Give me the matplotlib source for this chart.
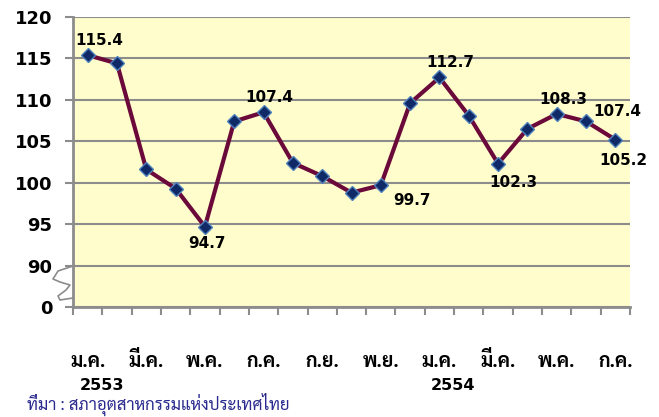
import matplotlib
matplotlib.use("Agg")
import matplotlib.pyplot as plt
from matplotlib import font_manager
from matplotlib.lines import Line2D
import numpy as np

# ---------------- data ----------------
values = [115.4, 114.4, 101.6, 99.3, 94.7, 107.4, 108.5, 102.4, 100.8, 98.8,
          99.7, 109.6, 112.7, 108.1, 102.3, 106.5, 108.3, 107.4, 105.2]
month_labels = ["ม.ค.", "มี.ค.", "พ.ค.", "ก.ค.", "ก.ย.", "พ.ย.",
                "ม.ค.", "มี.ค.", "พ.ค.", "ก.ค."]
year_labels = {0: "2553", 12: "2554"}
ytick_values = [85, 90, 95, 100, 105, 110, 115, 120]
ytick_labels = ["0", "90", "95", "100", "105", "110", "115", "120"]
# annotated points: index -> (text, dx px, dy px)
annotations = {0: ("115.4", 12, 15), 6: ("107.4", 6, 15), 4: ("94.7", 2, -17),
               10: ("99.7", 31, -15), 12: ("112.7", 11, 15), 14: ("102.3", 15, -19),
               16: ("108.3", 7, 14), 17: ("107.4", 31, 10), 18: ("105.2", 8, -21)}
source = "ที่มา : สภาอุตสาหกรรมแห่งประเทศไทย"

# ---------------- fonts ----------------
thai_font = None
try:
    from fontTools.ttLib import TTFont
    cands = {}
    for f in font_manager.fontManager.ttflist:
        try:
            tt = TTFont(f.fname, fontNumber=0, lazy=True)
            cmap = tt.getBestCmap()
            if cmap and 0x0E21 in cmap and 0x0E35 in cmap:
                w = f.weight if isinstance(f.weight, int) else 400
                cands.setdefault(f.name, set()).add(w)
        except Exception:
            pass
    if cands:
        pref = ["Tahoma", "Noto Sans Thai", "Noto Sans Thai UI", "Sarabun",
                "Garuda", "Loma", "Kinnari", "Umpush", "Waree", "Norasi"]
        for p in pref:
            if p in cands and max(cands[p]) >= 600:
                thai_font = p
                break
        if thai_font is None:
            bold = [n for n, ws in cands.items() if max(ws) >= 600]
            thai_font = sorted(bold)[0] if bold else sorted(cands)[0]
except Exception:
    pass
fams = ([thai_font] if thai_font else []) + ["DejaVu Sans"]
plt.rcParams["font.family"] = fams

W, H = 659, 417
fig = plt.figure(figsize=(W / 100, H / 100), dpi=100)
fig.patch.set_facecolor("white")
ax = fig.add_axes([73 / W, 1 - 307 / H, (630 - 73) / W, (307 - 17) / H])
ax.set_facecolor("#FFFDCC")

x = np.arange(len(values))
ax.plot(x, values, color="#6B0A3A", lw=3.0, zorder=3,
        marker="D", markersize=6.8, markerfacecolor="#0F2A66",
        markeredgecolor="#4F81BD", markeredgewidth=1.0)

ax.set_xlim(-0.5, len(values) - 0.5)
ax.set_ylim(85, 120)
ax.set_yticks(ytick_values)
ax.set_yticklabels(ytick_labels, fontsize=13, fontweight="bold",
                   family=["DejaVu Sans"])
ax.yaxis.grid(True, color="#8C8C8C", lw=1.5)
ax.set_axisbelow(True)
ax.tick_params(axis="y", length=6, width=1.5, color="#8C8C8C", pad=9)

ax.set_xticks(np.arange(0, len(values), 2))
ax.set_xticklabels(month_labels, fontsize=14, fontweight="bold", va="baseline")
ax.set_xticks(np.arange(-0.5, len(values), 1), minor=True)
ax.tick_params(axis="x", which="major", length=0, pad=43)
ax.tick_params(axis="x", which="minor", length=6, width=1.5, color="#8C8C8C")

for s in ["right", "top"]:
    ax.spines[s].set_visible(False)
for s in ["left", "bottom"]:
    ax.spines[s].set_color("#8C8C8C")
    ax.spines[s].set_linewidth(2)

for i, yl in year_labels.items():
    ax.annotate(yl, xy=(i, 0), xycoords=("data", "axes fraction"),
                xytext=(14, -78), textcoords="offset pixels",
                ha="center", va="center", fontsize=11.5, fontweight="bold",
                family=["DejaVu Sans"])

for i, (t, dx, dy) in annotations.items():
    ax.annotate(t, xy=(i, values[i]), xytext=(dx, dy), textcoords="offset pixels",
                ha="center", va="center", fontsize=11, fontweight="bold",
                family=["DejaVu Sans"], zorder=5)

# axis break squiggle
sq_x = np.array([73, 58, 53, 60, 70, 66, 58, 60, 73])
sq_y = np.array([266, 271, 279, 282, 285, 290, 296, 300, 298])
fig.add_artist(Line2D(sq_x / W, 1 - sq_y / H, transform=fig.transFigure,
                      color="#8C8C8C", lw=1.2))

fig.text(27 / W, 1 - 404 / H, source, fontsize=12, color="#2B2B8F",
         ha="left", va="center")

fig.savefig("out.png", dpi=100)
